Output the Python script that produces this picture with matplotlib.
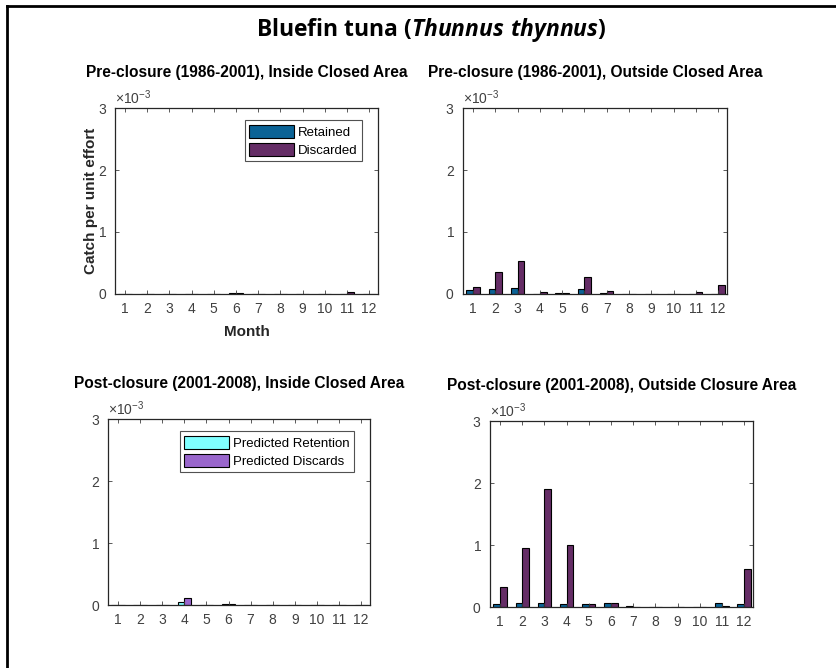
import matplotlib
matplotlib.use('Agg')
import matplotlib.pyplot as plt
import numpy as np
from matplotlib.lines import Line2D

plt.rcParams['font.family'] = 'sans-serif'
plt.rcParams['font.sans-serif'] = ['Liberation Sans', 'DejaVu Sans']
plt.rcParams['mathtext.fontset'] = 'custom'
plt.rcParams['mathtext.rm'] = 'Liberation Sans'
plt.rcParams['mathtext.it'] = 'Open Sans:italic:bold'

months = np.arange(1, 13)
month_labels = [str(m) for m in months]

# Catch per unit effort
pre_inside_retained = [0, 0, 0, 0, 0, 0.00001, 0, 0, 0, 0, 0, 0]
pre_inside_discarded = [0, 0, 0, 0, 0, 0.000016, 0, 0, 0, 0, 0.00004, 0]

pre_outside_retained = [0.00006, 0.00008, 0.0001, 0.000005, 0.00002, 0.00008,
                        0.00002, 0.000005, 0, 0, 0.000005, 0]
pre_outside_discarded = [0.00012, 0.00035, 0.00053, 0.00003, 0.00002, 0.00028,
                         0.00005, 0.000005, 0, 0, 0.00003, 0.00015]

post_inside_retention = [0, 0, 0, 0.000045, 0, 0.00001, 0, 0, 0, 0, 0, 0]
post_inside_discards = [0, 0, 0, 0.00011, 0, 0.00001, 0, 0, 0, 0, 0, 0]

post_outside_retained = [0.00005, 0.00007, 0.00007, 0.00005, 0.00005, 0.00007,
                         0.00002, 0.000003, 0, 0, 0.00007, 0.00005]
post_outside_discarded = [0.00032, 0.00095, 0.00191, 0.001, 0.00005, 0.00007,
                          0.000005, 0.000003, 0, 0, 0.00002, 0.00061]

C_RET = '#0b6396'
C_DIS = '#652d66'
C_PRET = '#80ffff'
C_PDIS = '#9966cc'

panels = [
    {"pos": [0.1376, 0.5599, 0.3146, 0.2784],
     "title": "Pre-closure (1986-2001), Inside Closed Area",
     "data": (pre_inside_retained, pre_inside_discarded),
     "colors": (C_RET, C_DIS), "labels": ("Retained", "Discarded"),
     "legend": True, "axis_labels": True},
    {"pos": [0.5538, 0.5599, 0.3158, 0.2784],
     "title": "Pre-closure (1986-2001), Outside Closed Area",
     "data": (pre_outside_retained, pre_outside_discarded),
     "colors": (C_RET, C_DIS), "labels": ("Retained", "Discarded"),
     "legend": False, "axis_labels": False},
    {"pos": [0.1292, 0.0943, 0.3134, 0.2784],
     "title": "Post-closure (2001-2008), Inside Closed Area",
     "data": (post_inside_retention, post_inside_discards),
     "colors": (C_PRET, C_PDIS), "labels": ("Predicted Retention", "Predicted Discards"),
     "legend": True, "axis_labels": False},
    {"pos": [0.5861, 0.0913, 0.3146, 0.2784],
     "title": "Post-closure (2001-2008), Outside Closure Area",
     "data": (post_outside_retained, post_outside_discarded),
     "colors": (C_RET, C_DIS), "labels": ("Retained", "Discarded"),
     "legend": False, "axis_labels": False},
]

fig = plt.figure(figsize=(8.36, 6.68), dpi=100)

bw = 0.3
for p in panels:
    ax = fig.add_axes(p["pos"])
    r, d = p["data"]
    ax.bar(months - bw / 2, r, width=bw, color=p["colors"][0], edgecolor='black',
           linewidth=0.8, label=p["labels"][0])
    ax.bar(months + bw / 2, d, width=bw, color=p["colors"][1], edgecolor='black',
           linewidth=0.8, label=p["labels"][1])
    ax.set_xlim(0.55, 12.4)
    ax.set_ylim(0, 0.003)
    ax.set_xticks(months)
    ax.set_xticklabels(month_labels)
    ax.set_yticks([0, 0.001, 0.002, 0.003])
    ax.ticklabel_format(axis='y', style='sci', scilimits=(0, 0), useMathText=True)
    ax.yaxis.get_offset_text().set_fontsize(10)
    ax.yaxis.get_offset_text().set_color('#666666')
    ax.tick_params(direction='in', top=True, right=True, length=3, width=0.6,
                   labelsize=10, labelcolor='#404040', color='#404040', pad=6)
    for s in ax.spines.values():
        s.set_linewidth(0.9)
        s.set_color('#262626')
    ax.set_title(p["title"], fontsize=11.2, fontweight='bold', pad=22)
    if p["axis_labels"]:
        ax.set_ylabel("Catch per unit effort", fontsize=11, fontweight='bold',
                      color='#262626', labelpad=0)
        ax.set_xlabel("Month", fontsize=11, fontweight='bold', color='#262626', labelpad=6)
    if p["legend"]:
        leg = ax.legend(loc='upper right', bbox_to_anchor=(0.94, 0.935), fontsize=9.5,
                        frameon=True, fancybox=False, edgecolor='#262626',
                        handlelength=3.4, handleheight=1.15, borderaxespad=0,
                        labelspacing=0.3, handletextpad=0.3, borderpad=0.35)
        leg.get_frame().set_linewidth(0.8)

fig.text(0.516, 0.955, r"Bluefin tuna ($\mathit{Thunnus\ thynnus}$)", ha='center', va='center',
         fontsize=16.5, fontweight='bold', family='Open Sans')

# frame lines from the original page
fig.add_artist(Line2D([0.0084, 0.0084], [0, 0.991], transform=fig.transFigure,
                      color='black', linewidth=2))
fig.add_artist(Line2D([0.0084, 1.0], [0.991, 0.991], transform=fig.transFigure,
                      color='black', linewidth=2))

fig.savefig('out.png', dpi=100)
